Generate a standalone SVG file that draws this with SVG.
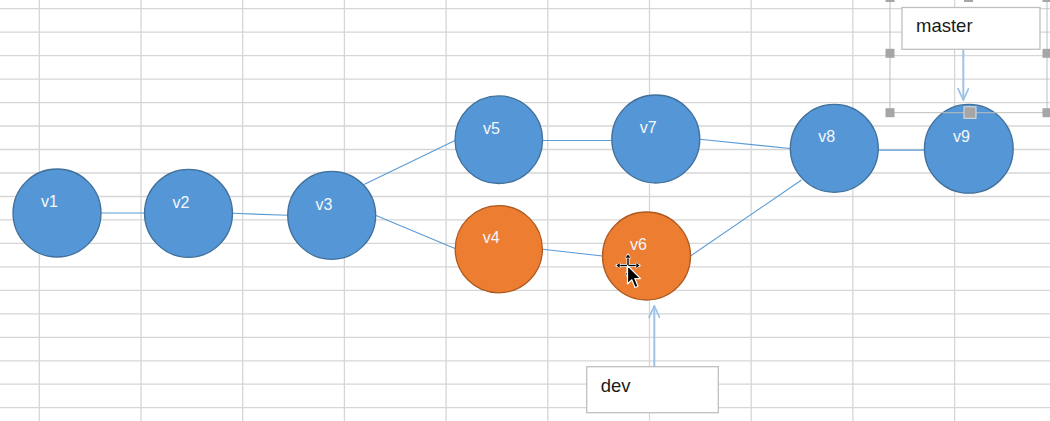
<svg xmlns="http://www.w3.org/2000/svg" width="1050" height="421" viewBox="0 0 1050 421">
<defs>
<style>
.grid line{stroke:#D6D6D6;stroke-width:1.3}
.conn line{stroke:#5B9BD5;stroke-width:1.1}
.blue{fill:#5597D6;stroke:#41719C;stroke-width:1.3}
.orange{fill:#ED7D31;stroke:#AE5A21;stroke-width:1.3}
.lbl{font-family:"Liberation Sans",Arial,sans-serif;font-size:16px;fill:#F4F7FB;text-anchor:middle}
.box{fill:#FFFFFF;stroke:#BFBFBF;stroke-width:1.3}
.btxt{font-family:"Liberation Sans",Arial,sans-serif;font-size:18.5px;fill:#1A1A1A}
.ptr{stroke:#9DC3E6;stroke-width:2;fill:none}
.handle{fill:#A6A6A6}
.sel{stroke:#BDBDBD;stroke-width:1;fill:none}
</style>
<marker id="open" viewBox="0 0 14 12" refX="13" refY="6" markerWidth="14" markerHeight="12" markerUnits="userSpaceOnUse" orient="auto">
<path d="M1,0.5 L13,6 L1,11.5" fill="none" stroke="#9DC3E6" stroke-width="1.8"/>
</marker>
</defs>
<rect width="1050" height="421" fill="#FFFFFF"/>
<g class="grid">
<line x1="39.3" y1="0" x2="39.3" y2="421"/>
<line x1="141" y1="0" x2="141" y2="421"/>
<line x1="242.7" y1="0" x2="242.7" y2="421"/>
<line x1="344.4" y1="0" x2="344.4" y2="421"/>
<line x1="446.1" y1="0" x2="446.1" y2="421"/>
<line x1="547.8" y1="0" x2="547.8" y2="421"/>
<line x1="649.5" y1="0" x2="649.5" y2="421"/>
<line x1="751.2" y1="0" x2="751.2" y2="421"/>
<line x1="852.9" y1="0" x2="852.9" y2="421"/>
<line x1="954.6" y1="0" x2="954.6" y2="421"/>
<line x1="0" y1="8.7" x2="1050" y2="8.7"/>
<line x1="0" y1="32.2" x2="1050" y2="32.2"/>
<line x1="0" y1="55.6" x2="1050" y2="55.6"/>
<line x1="0" y1="79.1" x2="1050" y2="79.1"/>
<line x1="0" y1="102.6" x2="1050" y2="102.6"/>
<line x1="0" y1="126" x2="1050" y2="126"/>
<line x1="0" y1="149.5" x2="1050" y2="149.5"/>
<line x1="0" y1="173" x2="1050" y2="173"/>
<line x1="0" y1="196.5" x2="1050" y2="196.5"/>
<line x1="0" y1="219.9" x2="1050" y2="219.9"/>
<line x1="0" y1="243.4" x2="1050" y2="243.4"/>
<line x1="0" y1="266.9" x2="1050" y2="266.9"/>
<line x1="0" y1="290.3" x2="1050" y2="290.3"/>
<line x1="0" y1="313.8" x2="1050" y2="313.8"/>
<line x1="0" y1="337.3" x2="1050" y2="337.3"/>
<line x1="0" y1="360.8" x2="1050" y2="360.8"/>
<line x1="0" y1="384.2" x2="1050" y2="384.2"/>
<line x1="0" y1="407.7" x2="1050" y2="407.7"/>
</g>
<g id="connectors" class="conn">
<line x1="101" y1="213" x2="144.5" y2="213"/>
<line x1="232.5" y1="213.3" x2="287.7" y2="215.3"/>
<line x1="364" y1="184.5" x2="455" y2="140.5"/>
<line x1="376" y1="215.5" x2="455" y2="248.5"/>
<line x1="542.6" y1="140.5" x2="611.8" y2="140.5"/>
<line x1="542.6" y1="249.2" x2="602.5" y2="256"/>
<line x1="699.8" y1="139.3" x2="790.3" y2="148.5"/>
<line x1="690.5" y1="256" x2="801.5" y2="180"/>
<line x1="878.3" y1="150.2" x2="924.3" y2="150.2" style="stroke:#5B9BD5;stroke-width:1.3"/>
</g>
<g id="v1"><circle class="blue" cx="57" cy="213" r="44"/><text class="lbl" x="49.5" y="207">v1</text></g>
<g id="v2"><circle class="blue" cx="188.5" cy="213.3" r="44"/><text class="lbl" x="181" y="208">v2</text></g>
<g id="v3"><circle class="blue" cx="331.7" cy="215.3" r="44"/><text class="lbl" x="324" y="209.5">v3</text></g>
<g id="v5"><circle class="blue" cx="498.8" cy="139.7" r="43.8"/><text class="lbl" x="491.5" y="133.5">v5</text></g>
<g id="v7"><circle class="blue" cx="655.8" cy="139" r="44"/><text class="lbl" x="648.3" y="133.3">v7</text></g>
<g id="v4"><circle class="orange" cx="498.8" cy="249.2" r="43.6"/><text class="lbl" x="491.3" y="243.3">v4</text></g>
<g id="v6"><circle class="orange" cx="646.5" cy="256" r="44"/><text class="lbl" x="638.5" y="250">v6</text></g>
<g id="v8"><circle class="blue" cx="834.3" cy="148.3" r="44"/><text class="lbl" x="826.7" y="142.3">v8</text></g>
<g id="v9"><circle class="blue" cx="968.8" cy="148.8" r="44.4"/><text class="lbl" x="961.5" y="142.3">v9</text></g>
<g id="master">
<rect class="box" x="902" y="7.5" width="138" height="41.8"/>
<text class="btxt" x="916" y="31.7">master</text>
<line class="ptr" x1="963.3" y1="49.5" x2="963.3" y2="100" marker-end="url(#open)"/>
</g>
<g id="dev">
<rect class="box" x="586.7" y="366.7" width="131.6" height="46"/>
<text class="btxt" x="600.7" y="391.7">dev</text>
<line class="ptr" x1="654.3" y1="366.5" x2="654.3" y2="306" marker-end="url(#open)"/>
</g>
<g id="selection">
<path class="sel" d="M890,-3 V112.7 H1047 V-3"/>
<rect class="handle" x="885.5" y="-7" width="9" height="9"/>
<rect class="handle" x="1042.5" y="-7" width="9" height="9"/>
<rect class="handle" x="964" y="-7" width="9" height="9"/>
<rect class="handle" x="885.5" y="48.8" width="9" height="9"/>
<rect class="handle" x="1042.5" y="48.8" width="9" height="9"/>
<rect class="handle" x="885.5" y="108.2" width="9" height="9"/>
<rect class="handle" x="1042.5" y="108.2" width="9" height="9"/>
<rect x="964" y="106.8" width="12" height="11.5" fill="#A6A6A6" stroke="#E0E0E0" stroke-width="1"/>
</g>
<g id="cursor">
<g stroke="#FFFFFF" stroke-width="3" stroke-linecap="round">
<line x1="617" y1="265.5" x2="639" y2="265.5"/>
<line x1="628" y1="255" x2="628" y2="276"/>
</g>
<g stroke="#000000" stroke-width="1.4">
<line x1="618" y1="265.5" x2="638" y2="265.5"/>
<line x1="628" y1="256" x2="628" y2="275"/>
</g>
<g fill="#000000" stroke="#FFFFFF" stroke-width="0.6">
<path d="M616,265.5 L620,262.5 L620,268.5 Z"/>
<path d="M640,265.5 L636,262.5 L636,268.5 Z"/>
<path d="M628,254 L625,258 L631,258 Z"/>
<path d="M628,277 L625,273 L631,273 Z"/>
</g>
<path d="M627.5,265.5 L627.5,284 L631.8,279.8 L635,287.5 L638,286.3 L634.8,278.6 L640.5,278.6 Z" fill="#000000" stroke="#FFFFFF" stroke-width="1.2" stroke-linejoin="round"/>
</g>
</svg>
